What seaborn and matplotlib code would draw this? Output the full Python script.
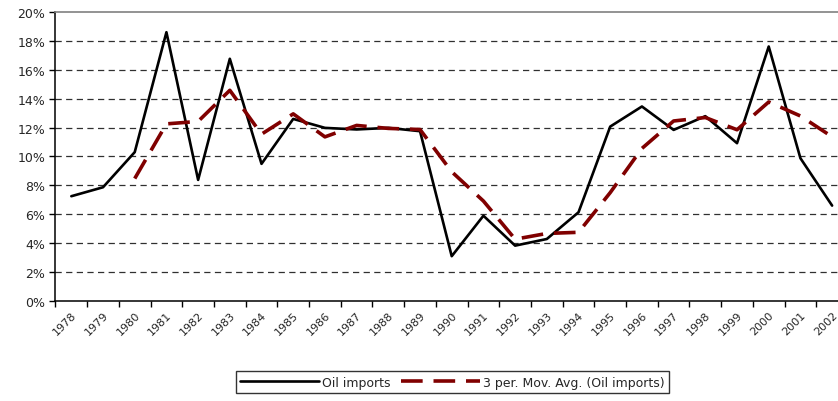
import numpy as np
import pandas as pd
import seaborn as sns
import matplotlib.pyplot as plt
import matplotlib.transforms as mtransforms
from matplotlib.ticker import PercentFormatter, MultipleLocator

sns.set_style("white")
plt.rcParams['font.family'] = ['DejaVu Sans']

years = list(range(1978, 2003))
oil = [7.25, 7.87, 10.3, 18.6, 8.38, 16.76, 9.49, 12.6, 11.98, 11.87, 11.98, 11.75,
       3.1, 5.9, 3.83, 4.29, 6.14, 12.07, 13.46, 11.84, 12.79, 10.92, 17.61, 9.88, 6.6]
df = pd.DataFrame({"Year": years, "Oil imports": np.array(oil) / 100})
df["idx"] = np.arange(len(df))
# 3-period moving average trendline
df["MA"] = df["Oil imports"].rolling(3).mean()

fig = plt.figure(figsize=(8.38, 4.02), dpi=100)
ax = fig.add_axes([0.0662, 0.2488, 0.9457, 0.7189])

sns.lineplot(data=df, x="idx", y="Oil imports", ax=ax, color="black", lw=1.9,
             label="Oil imports")
sns.lineplot(data=df.dropna(), x="idx", y="MA", ax=ax, color="#800000", lw=2.6,
             dashes=False, label="3 per. Mov. Avg. (Oil imports)")
ax.lines[1].set_dashes((6, 3))

ax.set_xlim(-0.5, 24.5)
ax.set_ylim(0, 0.20)
ax.yaxis.set_major_locator(MultipleLocator(0.02))
ax.yaxis.set_major_formatter(PercentFormatter(1.0, decimals=0))
for y in np.arange(0.02, 0.19, 0.02):
    ax.axhline(y, color="#303030", lw=0.9, dashes=(5, 3.5), zorder=0)

ax.set_xticks(df["idx"])
ax.set_xticklabels(df["Year"], rotation=45, ha="right", rotation_mode="anchor", fontsize=8)
shift = mtransforms.ScaledTranslation(-9 / 100, 2 / 100, fig.dpi_scale_trans)
for t in ax.get_xticklabels():
    t.set_transform(t.get_transform() + shift)
ax.set_xticks(np.arange(-0.5, 25, 1), minor=True)
ax.tick_params(axis="x", which="major", length=0, pad=6)
ax.tick_params(axis="x", which="minor", length=4, width=1, color="black", direction="out", bottom=True)
ax.tick_params(axis="y", length=4, width=1, color="black", direction="out", left=True, labelsize=9)
ax.set_xlabel("")
ax.set_ylabel("")

for s in ["left", "bottom"]:
    ax.spines[s].set_color("black")
    ax.spines[s].set_linewidth(1.1)
ax.spines["top"].set_color("#808080")
ax.spines["top"].set_linewidth(1.2)
ax.spines["right"].set_visible(False)

h, l = ax.get_legend_handles_labels()
ax.get_legend().remove()
leg = fig.legend(h, l, loc="center", bbox_to_anchor=(0.54, 0.047), ncol=2,
                 fontsize=9, frameon=True, fancybox=False, handlelength=6.3,
                 handletextpad=0.3, columnspacing=0.8, borderpad=0.35, borderaxespad=0)
leg.get_frame().set_edgecolor("black")
leg.get_frame().set_linewidth(1)

fig.savefig("out.png", dpi=100)
